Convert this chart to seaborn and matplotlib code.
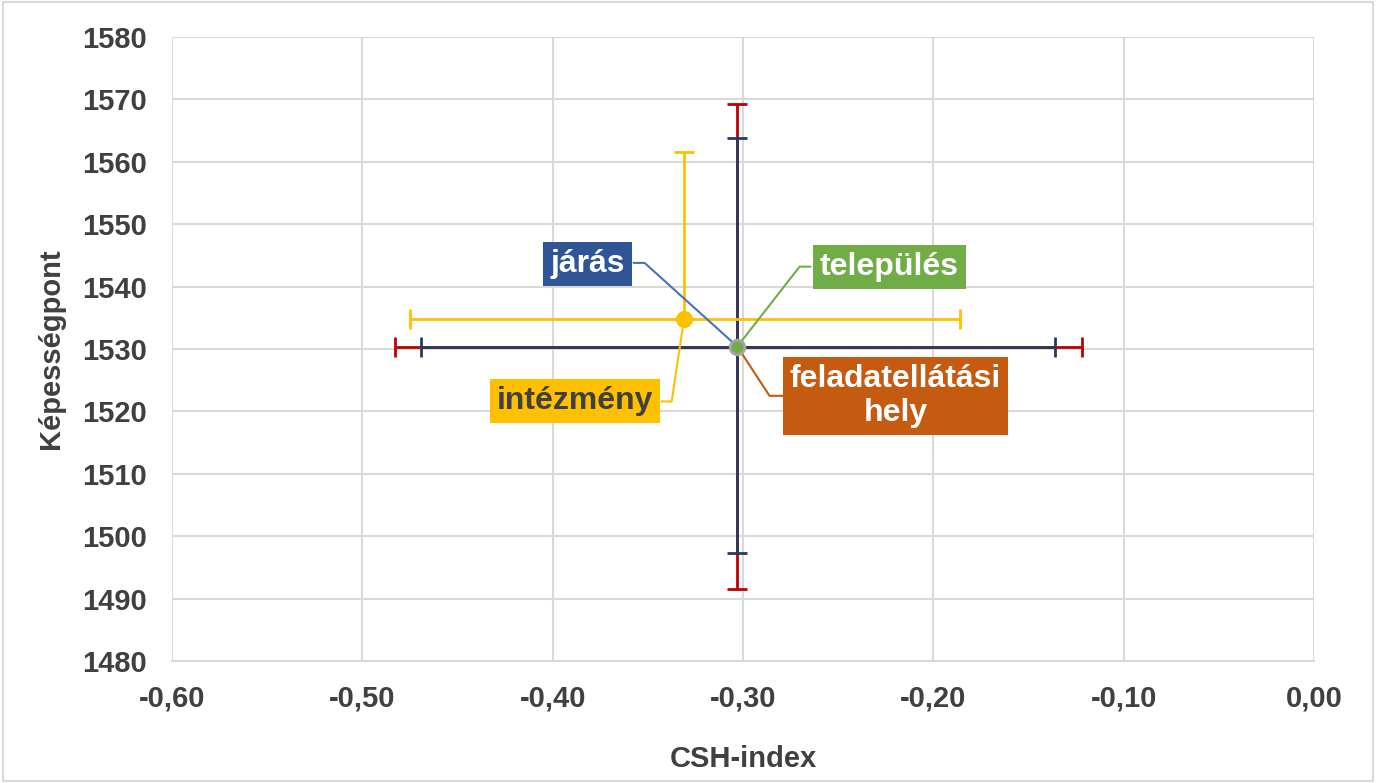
import numpy as np
import matplotlib.pyplot as plt
import matplotlib.patches as mpatches
import matplotlib.ticker as mticker
import seaborn as sns

# adatok (leolvasva)
series = ['feladatellátási hely', 'járás', 'település', 'intézmény']
x_vals = [-0.303, -0.303, -0.303, -0.331]
y_vals = [1530.4, 1530.4, 1530.4, 1534.8]
# hibasavok: (alsó, felső)
x_err = [(0.180, 0.181), (0.166, 0.167), (0.0, 0.0), (0.144, 0.145)]
y_err = [(38.8, 38.9), (33.1, 33.4), (0.0, 0.0), (0.0, 26.7)]
err_colors = ['#C00000', '#2B3A5A', '#2B3A5A', '#FFC000']

label_colors = {'járás': '#2F5597', 'település': '#70AD47',
                'feladatellátási hely': '#C55A11', 'intézmény': '#FFC000'}
line_colors = {'járás': '#4472C4', 'település': '#70AD47',
               'feladatellátási hely': '#C55A11', 'intézmény': '#FFC000'}

sns.set_theme(style='white')
plt.rcParams['font.family'] = ['Liberation Sans', 'DejaVu Sans']

fig = plt.figure(figsize=(13.76, 7.83), dpi=100)
ax = fig.add_axes([0.125, 0.1558, 0.830, 0.7969])

for i, name in enumerate(series):
    if x_err[i][1] == 0 and y_err[i][1] == 0:
        continue
    xe = np.array([[x_err[i][0]], [x_err[i][1]]])
    ye = np.array([[y_err[i][0]], [y_err[i][1]]])
    ax.errorbar([x_vals[i]], [y_vals[i]], xerr=xe, yerr=ye, fmt='none',
                ecolor=err_colors[i], elinewidth=2, capsize=7, capthick=2, zorder=3)

# pontok
sns.scatterplot(x=[x_vals[3]], y=[y_vals[3]], ax=ax, color='#FFC000', s=130,
                edgecolor='#FFC000', zorder=5, legend=False)
sns.scatterplot(x=[x_vals[2]], y=[y_vals[2]], ax=ax, color='#70AD47', s=110,
                edgecolor='#A5A5A5', linewidth=2, zorder=5, legend=False)

# címkék: (szöveg közepe), (könyök), szövegszín, doboz széle
labels_pos = {
    'járás': ((-0.3816, 1543.6), (-0.3517, 1543.8), 'white', -0.3575),
    'település': ((-0.2231, 1543.2), (-0.2703, 1543.2), 'white', -0.2646),
    'feladatellátási hely': ((-0.2199, 1522.5), (-0.2861, 1522.5), 'white', -0.2793),
    'intézmény': ((-0.3884, 1521.6), (-0.3375, 1521.6), '#404040', -0.3428),
}
for i, name in enumerate(series):
    (tx, ty), (ex, ey), tc, edge = labels_pos[name]
    txt = 'feladatellátási\nhely' if name == 'feladatellátási hely' else name
    ax.plot([edge, ex, x_vals[i]], [ey, ey, y_vals[i]],
            color=line_colors[name], lw=1.5, zorder=4)
    ax.text(tx, ty, txt, ha='center', va='center', fontsize=23, fontweight='bold',
            color=tc, linespacing=1.15, zorder=6,
            bbox=dict(boxstyle='square,pad=0.22', fc=label_colors[name], ec='none'))

ax.set_xlim(-0.6, 0.0)
ax.set_ylim(1480, 1580)
ax.set_xticks(np.arange(-0.6, 0.001, 0.1))
ax.set_yticks(np.arange(1480, 1581, 10))
ax.xaxis.set_major_formatter(mticker.FuncFormatter(
    lambda v, p: '0,00' if abs(v) < 1e-9 else f'{v:.2f}'.replace('.', ',')))
ax.grid(True, color='#D9D9D9', lw=1.5)
ax.set_axisbelow(True)
for s in ['top', 'right', 'left']:
    ax.spines[s].set_visible(False)
ax.spines['bottom'].set_color('#D9D9D9')
ax.spines['bottom'].set_linewidth(1.5)
ax.tick_params(axis='both', labelsize=21, colors='#404040', length=0)
ax.tick_params(axis='x', pad=17)
ax.tick_params(axis='y', pad=18)
for lab in ax.get_xticklabels() + ax.get_yticklabels():
    lab.set_fontweight('bold')
ax.set_xlabel('CSH-index', fontsize=21, fontweight='bold', color='#404040', labelpad=23)
ax.set_ylabel('Képességpont', fontsize=21, fontweight='bold', color='#404040', labelpad=12)

fig.patches.append(mpatches.Rectangle((0.002, 0.002), 0.996, 0.996, transform=fig.transFigure,
                                      fill=False, ec='#D9D9D9', lw=1.5))

fig.savefig('out.png', dpi=100)
